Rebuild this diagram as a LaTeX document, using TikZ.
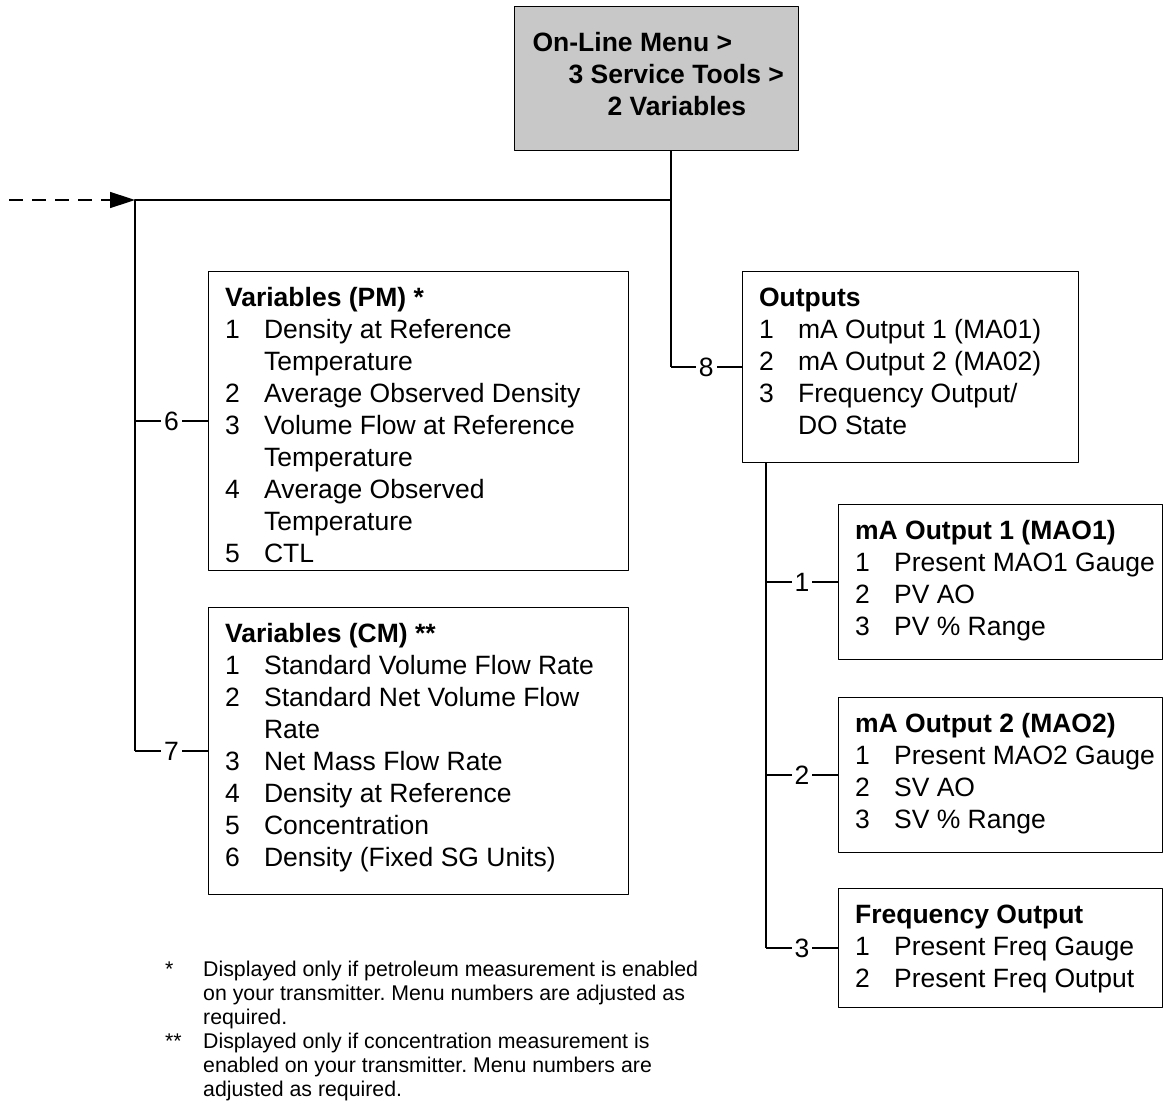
\documentclass[tikz,border=0pt]{standalone}
\usepackage{fontspec}
\setmainfont{Liberation Sans}
\usetikzlibrary{arrows.meta, calc}
\definecolor{mnfill}{RGB}{200,200,200}
\definecolor{mnline}{RGB}{0,0,0}
\frenchspacing
\newcommand{\bodyfont}{\fontsize{26.5}{32}\selectfont}
\newcommand{\notefont}{\fontsize{21.3}{24}\selectfont}
% text of a menu box: width, height, rows
\newcommand{\mnlist}[3]{\parbox[t][#2][t]{#1}{\vspace*{12pt}%
  \begin{tabular}[t]{@{}p{39pt}@{}l@{}}#3\end{tabular}}}
\newcommand{\mnhead}[1]{\multicolumn{2}{@{}l@{}}{\bfseries #1}}
\tikzset{
  every picture/.style={line join=round},
  menu/.style={draw=mnline, line width=1.2pt, anchor=north west,
    inner xsep=16.5pt, inner ysep=0pt, font=\bodyfont},
  root/.style={menu, fill=mnfill, inner xsep=18pt, inner ysep=11pt},
  trunk/.style={draw=mnline, line width=2pt},
  branch/.style={draw=mnline, line width=1.3pt},
  feedin/.style={draw=mnline, line width=1.5pt, dash pattern=on 14pt off 9pt,
    -{Triangle[length=25pt, width=16pt]}},
  num/.style={font=\bodyfont, fill=white, inner xsep=3pt, inner ysep=1pt},
  note/.style={font=\notefont, anchor=base west, inner sep=0pt},
}

\begin{document}
\begin{tikzpicture}[x=1pt, y=-1pt]
\useasboundingbox (0,0) rectangle (1164,1108);

% ---- Root of this part of the menu tree
\node[root] (root) at (514,6) {\mnlist{248pt}{122pt}{%
  \mnhead{On-Line Menu >}\\
  \mnhead{\hspace*{36pt}3 Service Tools >}\\
  \mnhead{\hspace*{75pt}2 Variables}}};

% ---- Variables (left column)
\node[menu] (pm) at (208,271) {\mnlist{387pt}{299pt}{%
  \mnhead{Variables (PM) *}\\
  1&Density at Reference\\
  &Temperature\\
  2&Average Observed Density\\
  3&Volume Flow at Reference\\
  &Temperature\\
  4&Average Observed\\
  &Temperature\\
  5&CTL}};
\node[menu] (cm) at (208,607) {\mnlist{387pt}{287pt}{%
  \mnhead{Variables (CM) **}\\
  1&Standard Volume Flow Rate\\
  2&Standard Net Volume Flow\\
  &Rate\\
  3&Net Mass Flow Rate\\
  4&Density at Reference\\
  5&Concentration\\
  6&Density (Fixed SG Units)}};

% ---- Outputs and their submenus (right column)
\node[menu] (out) at (742,271) {\mnlist{303pt}{191pt}{%
  \mnhead{Outputs}\\
  1&mA Output 1 (MA01)\\
  2&mA Output 2 (MA02)\\
  3&Frequency Output/\\
  &DO State}};
\node[menu] (mao1) at (838,504) {\mnlist{291pt}{155pt}{%
  \mnhead{mA Output 1 (MAO1)}\\
  1&Present MAO1 Gauge\\
  2&PV AO\\
  3&PV \% Range}};
\node[menu] (mao2) at (838,697) {\mnlist{291pt}{155pt}{%
  \mnhead{mA Output 2 (MAO2)}\\
  1&Present MAO2 Gauge\\
  2&SV AO\\
  3&SV \% Range}};
\node[menu] (freq) at (838,888) {\mnlist{291pt}{119pt}{%
  \mnhead{Frequency Output}\\
  1&Present Freq Gauge\\
  2&Present Freq Output}};

% ---- Connectors
\coordinate (src)  at (9,200);
\coordinate (feed) at (135,200);
\coordinate (drop) at ([xshift=14pt]root.south);
\coordinate (tap)  at ([xshift=24pt]out.south west);

\draw[feedin] (src) -- (feed);
\draw[trunk] (drop) |- (feed) -- (feed |- cm.west);
\draw[trunk] (drop) -- (drop |- out.west);
\draw[branch] (drop |- out.west) -- node[num] {8} (out.west);
\draw[branch] (feed |- pm.west) -- node[num] {6} (pm.west);
\draw[branch] (feed |- cm.west) -- node[num] {7} (cm.west);

\draw[trunk] (tap) -- (tap |- freq.west);
\foreach \tgt/\n in {mao1/1, mao2/2, freq/3}
  \draw[branch] (tap |- \tgt.west) -- node[num] {\n} (\tgt.west);

% ---- Footnotes
\node[note] (notes) at (165,976.6) {\begin{tabular}[t]{@{}p{38pt}@{}l@{}}
  {*}&Displayed only if petroleum measurement is enabled\\
  &on your transmitter. Menu numbers are adjusted as\\
  &required.\\
  {**}&Displayed only if concentration measurement is\\
  &enabled on your transmitter. Menu numbers are\\
  &adjusted as required.
\end{tabular}};

\end{tikzpicture}
\end{document}
